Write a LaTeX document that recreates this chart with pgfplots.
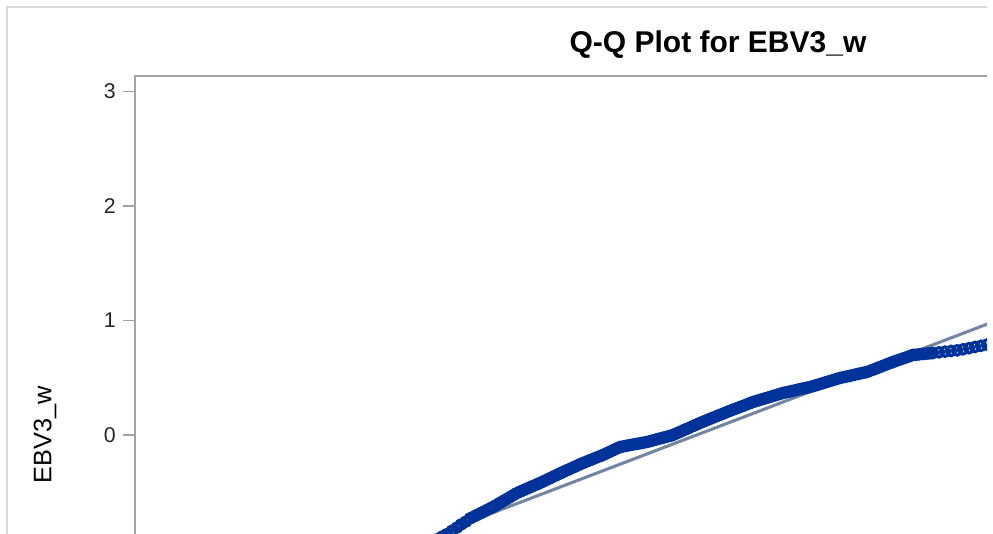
\documentclass[border=0pt]{standalone}
\usepackage{fontspec}
\setmainfont{Liberation Sans}
\usepackage{pgfplots}
\pgfplotsset{compat=1.18}
\definecolor{qqblue}{RGB}{0,51,153}
\definecolor{refline}{RGB}{115,133,163}
\definecolor{axgray}{RGB}{160,164,168}
\definecolor{framegray}{RGB}{218,218,218}

\begin{document}
\begin{tikzpicture}
\useasboundingbox (0,0) rectangle (744.75pt,-399.75pt);
\clip (0,0) rectangle (740.25pt,-399.75pt);
% outer frame of the graph, cut at right and bottom
\draw[framegray, line width=1.5pt] (5.25pt,-420pt) |- (760pt,-5.25pt);
\begin{axis}[
  at={(101.25pt,-57pt)}, anchor=north west,
  scale only axis,
  width=648.75pt, height=363.7pt,
  xmin=-6.25, xmax=2.40,
  ymin=-1.1, ymax=3.135,
  xtick=\empty,
  ytick={0,1,2,3},
  ytick pos=left,
  tick align=outside,
  major tick length=9pt,
  tick style={axgray, line width=1.2pt},
  axis line style={axgray, line width=1.4pt},
  /pgf/number format/assume math mode=true,
  yticklabel style={font=\fontsize{16}{18}\selectfont, text=black!85, xshift=-2pt},
  title={Q-Q Plot for EBV3\_w},
  title style={font=\fontsize{22.5}{26}\bfseries, at={(axis description cs:0.674,1.0413)}, anchor=base, yshift=-3.5pt},
  ylabel={EBV3\_w},
  ylabel style={font=\fontsize{19}{22}\selectfont, at={(axis description cs:-0.104,0.2597)}, anchor=center},
]
\addplot[only marks, mark=o, mark size=3.6pt, mark options={qqblue, line width=2.3pt}]
coordinates {
(-3.52,-1.057)(-3.46,-1.028)(-3.40,-0.999)(-3.34,-0.970)(-3.28,-0.941)(-3.22,-0.913)
(-3.17,-0.884)(-3.13,-0.865)(-3.08,-0.836)(-3.03,-0.808)(-2.99,-0.782)(-2.94,-0.756)
(-2.90,-0.729)(-2.87,-0.716)(-2.84,-0.703)(-2.81,-0.690)(-2.78,-0.677)(-2.75,-0.664)
(-2.72,-0.651)(-2.69,-0.638)(-2.67,-0.629)(-2.64,-0.614)(-2.61,-0.598)(-2.58,-0.583)
(-2.55,-0.568)(-2.52,-0.553)(-2.49,-0.537)(-2.46,-0.522)(-2.43,-0.507)(-2.40,-0.495)
(-2.37,-0.484)(-2.34,-0.472)(-2.31,-0.461)(-2.28,-0.449)(-2.25,-0.438)(-2.22,-0.427)
(-2.20,-0.419)(-2.17,-0.407)(-2.14,-0.394)(-2.11,-0.382)(-2.08,-0.369)(-2.05,-0.357)
(-2.02,-0.344)(-1.99,-0.332)(-1.97,-0.323)(-1.94,-0.311)(-1.91,-0.300)(-1.88,-0.288)
(-1.85,-0.276)(-1.82,-0.264)(-1.79,-0.252)(-1.77,-0.245)(-1.74,-0.234)(-1.71,-0.224)
(-1.68,-0.213)(-1.65,-0.202)(-1.62,-0.192)(-1.59,-0.182)(-1.57,-0.175)(-1.54,-0.162)
(-1.51,-0.150)(-1.48,-0.138)(-1.45,-0.125)(-1.42,-0.113)(-1.40,-0.105)(-1.37,-0.100)
(-1.34,-0.095)(-1.31,-0.090)(-1.28,-0.085)(-1.25,-0.080)(-1.22,-0.076)(-1.19,-0.071)
(-1.16,-0.066)(-1.13,-0.061)(-1.10,-0.054)(-1.07,-0.047)(-1.04,-0.040)(-1.01,-0.033)
(-0.98,-0.026)(-0.95,-0.019)(-0.92,-0.012)(-0.89,-0.005)(-0.87,0.000)(-0.84,0.012)
(-0.81,0.023)(-0.78,0.035)(-0.75,0.047)(-0.72,0.058)(-0.69,0.070)(-0.66,0.082)
(-0.63,0.093)(-0.60,0.105)(-0.57,0.115)(-0.54,0.126)(-0.51,0.137)(-0.48,0.148)
(-0.45,0.158)(-0.42,0.169)(-0.39,0.179)(-0.36,0.190)(-0.33,0.201)(-0.30,0.211)
(-0.27,0.221)(-0.24,0.231)(-0.21,0.241)(-0.18,0.251)(-0.15,0.261)(-0.12,0.271)
(-0.09,0.281)(-0.07,0.288)(-0.04,0.296)(-0.01,0.304)(0.02,0.312)(0.05,0.320)
(0.08,0.327)(0.11,0.335)(0.14,0.343)(0.17,0.351)(0.20,0.359)(0.23,0.367)
(0.26,0.373)(0.29,0.378)(0.32,0.384)(0.35,0.390)(0.38,0.396)(0.41,0.402)
(0.44,0.408)(0.47,0.413)(0.50,0.419)(0.53,0.427)(0.56,0.435)(0.59,0.442)
(0.62,0.450)(0.65,0.458)(0.68,0.466)(0.71,0.474)(0.74,0.482)(0.77,0.490)
(0.80,0.498)(0.83,0.504)(0.86,0.509)(0.89,0.515)(0.92,0.521)(0.95,0.527)
(0.98,0.533)(1.01,0.539)(1.04,0.544)(1.07,0.550)(1.10,0.560)(1.13,0.570)
(1.16,0.580)(1.19,0.591)(1.22,0.601)(1.25,0.611)(1.28,0.621)(1.31,0.631)
(1.33,0.638)(1.36,0.647)(1.39,0.656)(1.42,0.665)(1.45,0.674)(1.48,0.683)
(1.51,0.693)(1.53,0.699)(1.56,0.701)(1.59,0.704)(1.62,0.707)(1.65,0.709)
(1.68,0.712)(1.71,0.714)(1.73,0.716)(1.79,0.722)(1.85,0.728)(1.91,0.734)
(1.97,0.739)(2.03,0.748)(2.09,0.758)(2.15,0.769)(2.21,0.779)(2.27,0.790)
(2.33,0.797)(2.39,0.810)
};
% reference line
\addplot[refline, line width=2.3pt] coordinates {(-4.60,-1.322)(2.40,1.011)};
\end{axis}
\end{tikzpicture}
\end{document}
